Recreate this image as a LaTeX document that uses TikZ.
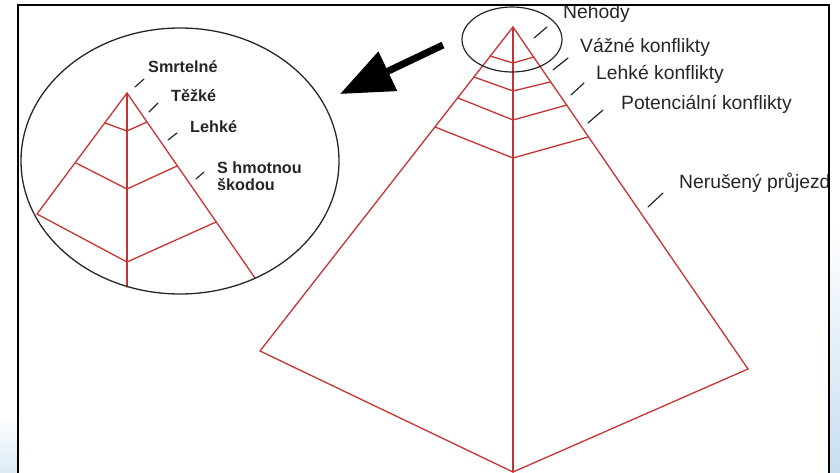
\documentclass[tikz,border=0pt]{standalone}
\usepackage{fontspec}
\setmainfont{Liberation Sans}
\usepackage{tkz-euclide}
\usetikzlibrary{arrows.meta,calc}
\definecolor{PyrClr}{rgb}{0.78,0.2,0.2}
\definecolor{SlideClr}{rgb}{0.78,0.87,0.94}

\begin{document}
\begin{tikzpicture}[x=1pt,y=-1pt,
  lbl/.style={font=\fontsize{19.3}{21}\selectfont,text=black!85,anchor=base west,inner sep=0pt},
  slbl/.style={font=\fontsize{16.2}{18}\selectfont\bfseries,text=black!85,anchor=base west,inner sep=0pt}]
\useasboundingbox (0,0) rectangle (840,473);
\tkzSetUpLine[line width=1.3pt,color=PyrClr]

\shade[top color=white,bottom color=SlideClr] (829,225) rectangle (840,473);
\shade[top color=white,bottom color=SlideClr!60] (0,415) rectangle (18,473);

\tkzDefPoints{513/27/A,260/351/L,748/369/R,513/472/B}
\tkzDefPoints{490/56/P1l,513/63/P1c,534/57/P1r,474/77/P2l,513/91/P2c,550/82/P2r}
\tkzDefPoints{458/98/P3l,513/120/P3c,567/105/P3r,435/127/P4l,513/158/P4c,588/137/P4r}

\tkzDefPoints{127/93/SA,37/214/SL,255/278/SR,127/287/SB}
\tkzDefPoints{105/123/S1l,127/131/S1c,147/122/S1r,76/163/S2l,127/189/S2c,177/166/S2r}
\tkzDefPoints{127/262/S3c,216/222/S3r}

\tkzDefPoints{512/39.5/O1,180/161/O2}
\tkzDefPoints{443/45/ArrT,340/94/ArrH}

% big pyramid
\tkzDrawSegments(A,L A,R A,B L,B R,B)
\tkzDrawSegments(P1l,P1c P1c,P1r P2l,P2c P2c,P2r P3l,P3c P3c,P3r P4l,P4c P4c,P4r)

% zoomed top
\tkzDrawSegments(SA,SL SA,SR SA,SB)
\tkzDrawSegments(S1l,S1c S1c,S1r S2l,S2c S2c,S2r SL,S3c S3c,S3r)

\draw[line width=1.2pt,black!85] (O1) ellipse [x radius=50,y radius=32.5];
\draw[line width=1.3pt,black!85] (O2) ellipse [x radius=159,y radius=133];

\draw[line width=7pt,black,-{Triangle[length=53pt,width=42pt]}] (ArrT) -- (ArrH);

% label ticks
\tkzDefPoints{534/38/a1,547/27/a2,553/70/b1,568/58/b2,571/95/c1,584/83/c2}
\tkzDefPoints{588/123/d1,603/110/d2,648/207/e1,663/193/e2}
\tkzDefPoints{135/87/f1,144/79/f2,149/112/g1,158/103/g2,168/140/h1,177/133/h2,196/179/k1,204/172/k2}
\tkzDrawSegments[line width=1.2pt,color=black!85](a1,a2 b1,b2 c1,c2 d1,d2 e1,e2)
\tkzDrawSegments[line width=1.2pt,color=black!85](f1,f2 g1,g2 h1,h2 k1,k2)

\node[lbl] (nNehody) at (563,18.5) {Nehody};
\node[lbl] (nVazne) at (580,53) {Vážné konflikty};
\node[lbl] (nLehke) at (596,80) {Lehké konflikty};
\node[lbl] (nPotenc) at (621,110) {Potenciální konflikty};
\begin{scope}
\clip (18,0) rectangle (828,473);
\node[lbl] (nNerus) at (679,189) {Nerušený průjezd};
\end{scope}

\node[slbl] (sSmrt) at (148,72.5) {Smrtelné};
\node[slbl] (sTezke) at (171,102) {Těžké};
\node[slbl] (sLehke) at (190,133) {Lehké};
\node[slbl] (sHmot) at (217,174) {S hmotnou};
\node[slbl] (sSkod) at (217,190) {škodou};

\draw[line width=2pt] (18,480) -- (18,5) -- (829,5) -- (829,480);

\end{tikzpicture}
\end{document}
